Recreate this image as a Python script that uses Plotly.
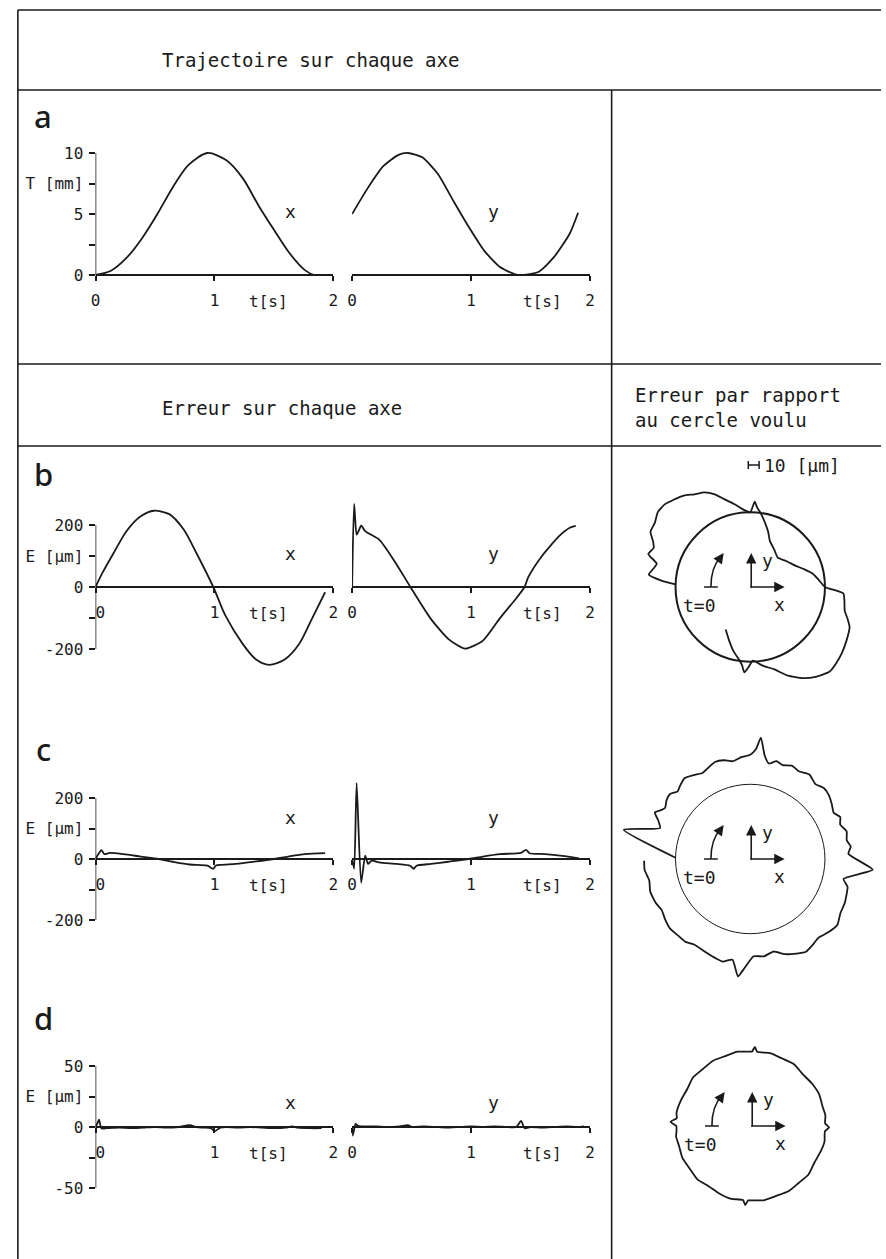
import plotly.graph_objects as go

W, H = 886, 1259
INK = "#1a1a1a"
MONO = "DejaVu Sans Mono"

# ---- a : trajectoire [mm] ----
a_x_t = [0, 0.13, 0.26, 0.39, 0.52, 0.65, 0.78, 0.94, 1.1, 1.24, 1.37, 1.5, 1.63, 1.76, 1.84, 1.87]
a_x = [0, 0.35, 1.4, 3.0, 5.0, 7.2, 9.0, 10.0, 9.4, 7.9, 5.7, 3.7, 1.8, 0.4, 0.0, 0.0]
a_y_t = [0, 0.13, 0.26, 0.39, 0.47, 0.59, 0.72, 0.85, 0.98, 1.11, 1.24, 1.37, 1.44, 1.57, 1.7, 1.83, 1.9]
a_y = [5.0, 7.1, 8.9, 9.85, 10.0, 9.65, 8.3, 6.1, 3.95, 2.0, 0.68, 0.05, 0.0, 0.27, 1.5, 3.4, 5.1]

# ---- b : erreur [um] ----
b_x_t = [0, 0.06, 0.15, 0.26, 0.38, 0.49, 0.62, 0.74, 0.85, 0.99, 1.09, 1.24, 1.35, 1.46, 1.59, 1.71, 1.82, 1.93]
b_x = [0, 47, 108, 180, 228, 246, 235, 186, 108, 0, -91, -185, -234, -251, -234, -185, -102, -17]
b_y_t = [0, 0.017, 0.038, 0.06, 0.076, 0.11, 0.23, 0.37, 0.49, 0.66, 0.81, 0.95, 1.10, 1.24, 1.36, 1.45, 1.48, 1.59, 1.74, 1.83, 1.88]
b_y = [0, 268, 169, 185, 199, 180, 152, 75, 0, -102, -168, -199, -173, -102, -46, 0, 31, 97, 164, 191, 197]

# ---- c ----
c_x_t = [0, 0.024, 0.05, 0.074, 0.12, 0.235, 0.38, 0.53, 0.65, 0.79, 0.94, 0.99, 1.01, 1.06, 1.18, 1.35, 1.5, 1.62, 1.76, 1.93]
c_x = [0, 16, 29, 16, 20, 16, 8, 0, -9, -18, -22, -32, -22, -19, -16, -8, 0, 8, 16, 19]
c_y_t = [0, 0.017, 0.038, 0.076, 0.11, 0.134, 0.163, 0.227, 0.372, 0.488, 0.517, 0.541, 0.663, 0.808, 0.983, 1.099, 1.244, 1.419, 1.462, 1.491, 1.622, 1.767, 1.907]
c_y = [0, -32, 249, -78, 11, -16, -5, -11, -16, -22, -32, -22, -16, -9, 0, 8, 16, 20, 30, 19, 16, 10, 2]

# ---- d ----
d_x_t = [0, 0.02, 0.03, 0.05, 0.1, 0.2, 0.3, 0.4, 0.5, 0.6, 0.7, 0.79, 0.85, 0.9, 0.97, 1.0, 1.05, 1.1, 1.2, 1.3, 1.4, 1.5, 1.6, 1.65, 1.7, 1.8, 1.9]
d_x = [0, 4, 6, -1, -1, -0.5, -1, -0.5, 0, -0.5, 0, 1.5, 0, -0.5, -1, -3.5, -0.5, 0, -0.5, 0, -0.5, -1, -0.5, 0.5, -0.5, -1, -1]
d_y_t = [0, 0.005, 0.015, 0.03, 0.05, 0.1, 0.2, 0.3, 0.4, 0.47, 0.5, 0.6, 0.7, 0.8, 0.9, 1.0, 1.1, 1.2, 1.3, 1.38, 1.42, 1.45, 1.5, 1.6, 1.7, 1.8, 1.9, 1.95]
d_y = [0, -7, -3, 2.5, 1, 0.5, 0.5, 0, 0.5, 1.5, 0, 0.5, 0, -0.5, 0, 0.5, 0, 0.5, 0, 0, 5, -1, 0, -0.5, 0, 0.5, 0, 0.5]

# ---- erreur par rapport au cercle voulu (angle [deg], ecart radial [um]) ----
b_theta = [178, 176, 173, 169, 166, 162, 158, 155, 151, 146, 141, 136, 131, 126, 121, 116, 111, 107, 101, 95, 90, 87, 85, 82, 77, 72, 67, 57, 47, 36, 25, 18, 12, 6, 0, -4, -9, -14, -18, -22, -29, -36, -42, -47, -54, -60, -67, -74, -81, -88, -91, -94, -96, -98, -105, -112, -120]
b_dev = [0, 14, 28, 24, 22, 33, 30, 33, 40, 41, 45, 45, 42, 39, 34, 31, 25, 18, 10, 3, 0, 11, 5, 0, -9, -17, -25, -31, -35, -31, -25, -18, -11, -6, 0, 19, 21, 23, 28, 33, 36, 39, 41, 42, 37, 31, 22, 11, 5, -1, 5, 11, 4, 0, -9, -18, -26]

c_theta = [179, 167, 161, 157, 154, 151, 149, 145, 141, 137, 134, 129, 124, 119, 115, 110, 105, 100, 95, 90, 87, 85, 82, 79, 75, 71, 66, 61, 55, 49, 44, 39, 34, 29, 25, 21, 16, 11, 7, 3, -5, -12, -16, -19, -25, -31, -37, -43, -49, -54, -59, -64, -70, -76, -82, -88, -93, -96, -100, -105, -109, -116, -123, -128, -133, -139, -145, -150, -155, -162, -168, -174, -179]
c_dev = [0, 56, 21, 26, 32, 27, 25, 28, 29, 25, 27, 30, 27, 24, 26, 29, 28, 25, 28, 30, 36, 48, 30, 23, 27, 25, 28, 26, 29, 25, 28, 27, 24, 21, 25, 22, 26, 24, 27, 24, 49, 21, 27, 28, 30, 31, 35, 33, 30, 32, 34, 31, 27, 21, 24, 23, 35, 44, 28, 32, 31, 29, 28, 31, 31, 32, 30, 28, 30, 31, 29, 32, 32]

d_theta = [180, 177, 174, 170, 160, 150, 140, 130, 120, 110, 100, 92, 89, 87, 85, 75, 65, 55, 45, 35, 25, 15, 8, 2, -1, -4, -7, -12, -20, -30, -40, -50, -60, -70, -80, -89, -92, -94, -96, -105, -115, -125, -135, -145, -155, -165, -172, -176, -180]
d_dev = [0, 6, 0, 1, 0, -1, 1, 0, 1, 0, 1, 0, 0, 5, 0, 1, 0, 1, -1, 0, 1, 0, 1, 0, 4, 0, 0, 1, 0, -1, 1, 0, 1, 0, 1, 0, 0, 5, 0, 1, 0, -1, 1, 0, 1, 0, 1, 0, 0]


def fx(p):
    return p / W


def fy(p):
    return 1 - p / H


def clamp(v):
    return min(1, max(0, v))


def ydom(p_lo, v_lo, p_hi, v_hi, r0, r1):
    k = (p_lo - p_hi) / (v_hi - v_lo)
    return [fy(p_lo + (v_lo - r0) * k), fy(p_hi - (r1 - v_hi) * k)]


def text(x, y, s, size=18, family=MONO, xanchor="center", weight=None, **kw):
    font = dict(family=family, size=size, color=INK)
    if weight:
        font["weight"] = weight
    return dict(x=fx(x), y=fy(y), xref="paper", yref="paper", text=s, showarrow=False,
                xanchor=xanchor, yanchor="middle", font=font, **kw)


def arrow(x, y, ax, ay):
    return dict(x=fx(x), y=fy(y), ax=ax, ay=ay, xref="paper", yref="paper", text="",
                showarrow=True, arrowhead=2, arrowsize=1.3, arrowwidth=1.6, arrowcolor=INK)


def pline(x0, y0, x1, y1, w=1.6):
    return dict(type="line", xref="paper", yref="paper", x0=fx(x0), x1=fx(x1), y0=fy(y0), y1=fy(y1),
                line=dict(color=INK, width=w))


TICKFONT = dict(family=MONO, size=16, color=INK)
LINE = dict(color=INK, width=1.8)

fig = go.Figure()

sections = [
    dict(top_px=153, top_v=10, zero_px=275, lo_v=0, rng=[-1.5, 11.5],
         tickvals=[0, 2.5, 5, 7.5, 10], ticktext=["0", "", "5", "T [mm]", "10"],
         x=(a_x_t, a_x), y=(a_y_t, a_y), lab_v=5.2, zero_lab="0"),
    dict(top_px=525, top_v=200, zero_px=587, lo_v=-200, rng=[-290, 290],
         tickvals=[-200, -100, 0, 100, 200], ticktext=["-200", "", "0", "E [µm]", "200"],
         x=(b_x_t, b_x), y=(b_y_t, b_y), lab_v=108, zero_lab="\u00a00"),
    dict(top_px=798, top_v=200, zero_px=859, lo_v=-200, rng=[-290, 290],
         tickvals=[-200, -100, 0, 100, 200], ticktext=["-200", "", "0", "E [µm]", "200"],
         x=(c_x_t, c_x), y=(c_y_t, c_y), lab_v=135, zero_lab="\u00a00"),
    dict(top_px=1066, top_v=50, zero_px=1127, lo_v=-50, rng=[-60, 60],
         tickvals=[-50, -25, 0, 25, 50], ticktext=["-50", "", "0", "E [µm]", "50"],
         x=(d_x_t, d_x), y=(d_y_t, d_y), lab_v=20, zero_lab="\u00a00"),
]

layout = {}
shapes = []
annotations = []

for i, s in enumerate(sections):
    yi = i + 1
    xl, xr = 2 * i + 1, 2 * i + 2
    yname = "y" if yi == 1 else f"y{yi}"
    xlname = "x" if xl == 1 else f"x{xl}"
    xrname = f"x{xr}"
    layout["yaxis" if yi == 1 else f"yaxis{yi}"] = dict(
        domain=ydom(s["zero_px"], 0, s["top_px"], s["top_v"], s["rng"][0], s["rng"][1]),
        range=s["rng"], anchor=xlname, showline=False,
        ticks="outside", ticklen=6, tickwidth=1.5, tickcolor=INK,
        tickvals=s["tickvals"], ticktext=s["ticktext"], tickfont=TICKFONT,
        showgrid=False, zeroline=False, ticklabelstandoff=2)
    pos = fy(s["zero_px"])
    for xi, dom, zl in ((xl, [fx(87), fx(329)], s["zero_lab"]), (xr, [fx(348), fx(590)], "0")):
        layout["xaxis" if xi == 1 else f"xaxis{xi}"] = dict(
            domain=dom, range=[0, 2], anchor="free", position=pos,
            showline=True, linecolor=INK, linewidth=1.5,
            ticks="outside", ticklen=5, tickwidth=1.5, tickcolor=INK,
            tickvals=[0, 1, 2], ticktext=[zl, "1", "2"], tickfont=TICKFONT,
            showgrid=False, zeroline=False, ticklabelstandoff=6)
    fig.add_trace(go.Scatter(x=s["x"][0], y=s["x"][1], mode="lines",
                             line=dict(shape="spline", smoothing=0.8, **LINE), xaxis=xlname, yaxis=yname))
    fig.add_trace(go.Scatter(x=s["y"][0], y=s["y"][1], mode="lines",
                             line=dict(shape="spline", smoothing=0.6, **LINE), xaxis=xrname, yaxis=yname))
    # y axis line only between the outer ticks
    shapes.append(dict(type="line", xref=xlname, yref=yname, x0=0, x1=0,
                       y0=s["lo_v"], y1=s["top_v"], line=dict(color=INK, width=1.5)))
    for xn, tx, lx, name in ((xlname, 1.45, 1.64, "x"), (xrname, 1.6, 1.19, "y")):
        annotations.append(dict(text="t[s]", xref=xn, yref="paper", x=tx, y=fy(s["zero_px"] + 26),
                                xanchor="center", yanchor="middle", showarrow=False, font=TICKFONT))
        annotations.append(dict(text=name, xref=xn, yref=yname, x=lx, y=s["lab_v"],
                                xanchor="center", yanchor="middle", showarrow=False,
                                font=dict(family=MONO, size=18, color=INK)))

# polar panels: erreur radiale autour du cercle voulu
polars = [(753, 587, b_theta, b_dev, 2.2), (753, 859, c_theta, c_dev, 1.2), (754, 1126, d_theta, d_dev, 0)]
R0, RMAX = 76, 57
for j, (cx, cy, th, dv, gw) in enumerate(polars):
    pname = "polar" if j == 0 else f"polar{j + 1}"
    rad = R0 + RMAX
    layout[pname] = dict(
        domain=dict(x=[clamp(fx(cx - rad)), clamp(fx(cx + rad))], y=[clamp(fy(cy + rad)), clamp(fy(cy - rad))]),
        bgcolor="rgba(0,0,0,0)",
        radialaxis=dict(range=[-R0, RMAX], visible=gw > 0, showline=False, ticks="",
                        showticklabels=False, tickvals=[0], showgrid=True,
                        gridcolor=INK, gridwidth=max(gw, 0.1)),
        angularaxis=dict(visible=False, showgrid=False, rotation=0, direction="counterclockwise"))
    fig.add_trace(go.Scatterpolar(theta=th, r=dv, mode="lines", subplot=pname,
                                  line=dict(color=INK, width=1.8, shape="spline", smoothing=0.5)))
    annotations.append(arrow(cx + 1, cy - 34, 0, 36))
    annotations.append(arrow(cx + 35, cy, -36, 0))
    annotations.append(text(cx + 18, cy - 27, "y"))
    annotations.append(text(cx + 30, cy + 17, "x"))
    annotations.append(text(cx - 52, cy + 18, "t=0"))
    shapes.append(pline(cx - 47, cy, cx - 33, cy, 1.5))
    shapes.append(dict(type="path", xref="paper", yref="paper",
                       path=f"M {fx(cx - 40)},{fy(cy)} Q {fx(cx - 40)},{fy(cy - 20)} {fx(cx - 30)},{fy(cy - 30)}",
                       line=dict(color=INK, width=1.6)))
    annotations.append(arrow(cx - 27, cy - 34, -5, 7))

# frame
for y0 in (10, 90, 364, 446):
    shapes.append(pline(8, y0, W, y0))
shapes.append(pline(8, 10, 8, H))
shapes.append(pline(612, 90, 612, H))

# scale bar 10 um
shapes.append(pline(751, 465, 762, 465, 1.5))
for bx in (751, 762):
    shapes.append(pline(bx, 461, bx, 469, 1.5))
annotations.append(text(765, 465, "10 [µm]", size=18, xanchor="left"))

annotations.append(text(153, 60, "Trajectoire sur chaque axe", size=19, xanchor="left"))
annotations.append(text(153, 408, "Erreur sur chaque axe", size=19, xanchor="left"))
annotations.append(text(634, 408, "Erreur par rapport<br>au cercle voulu", size=19, xanchor="left", align="left"))
for letter, ly in (("a", 116), ("b", 474), ("c", 749), ("d", 1018)):
    annotations.append(text(34, ly, letter, size=31, family="Noto Sans", weight=500))

fig.update_layout(width=W, height=H, margin=dict(l=0, r=0, t=0, b=0),
                  paper_bgcolor="white", plot_bgcolor="rgba(0,0,0,0)", showlegend=False,
                  shapes=shapes, annotations=annotations, **layout)

fig.write_html("out.html", config={"displayModeBar": False},
               post_script="document.body.style.margin='0px';")
